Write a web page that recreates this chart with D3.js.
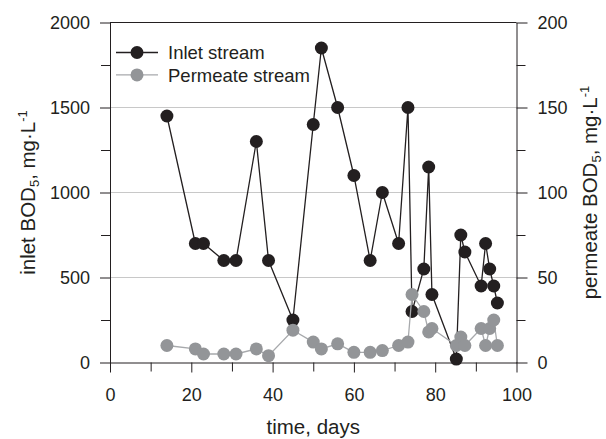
<!DOCTYPE html>
<html>
<head>
<meta charset="utf-8">
<script src="https://cdn.jsdelivr.net/npm/d3@7"></script>
<style>
  html, body { margin: 0; padding: 0; background: #fff; }
  svg { display: block; font-family: "Liberation Sans", Arial, Helvetica, sans-serif; }
  .axis path, .axis line { stroke: #231f20; stroke-width: 1; }
  .axis text { font-size: 18px; fill: #231f20; }
</style>
</head>
<body>
<svg id="chart" width="606" height="439"></svg>
<script>
// Sampling days (x values)
const days = [14, 21, 23, 28, 31, 36, 39, 45, 50, 52, 56, 60, 64, 67, 71, 73.3, 74.3, 77.2, 78.4, 79.2, 85.2, 86.3, 87.3, 91.3, 92.4, 93.4, 94.4, 95.3];

// Inlet BOD5, mg/L (left axis)
const inletValues = [1450, 700, 700, 600, 600, 1300, 600, 250, 1400, 1850, 1500, 1100, 600, 1000, 700, 1500, 300, 550, 1150, 400, 20, 750, 650, 450, 700, 550, 450, 350];

// Permeate BOD5, mg/L (right axis)
const permeateValues = [10, 8, 5, 5, 5, 8, 4, 19, 12, 8, 11, 6, 6, 7, 10, 12, 40, 30, 18, 20, 10, 15, 10, 20, 10, 20, 25, 10];

// Tick values
const xTicks = [0, 20, 40, 60, 80, 100];
const xMinorTicks = [10, 30, 50, 70, 90];
const leftTicks = [0, 500, 1000, 1500, 2000];
const leftMinorTicks = [250, 750, 1250, 1750];
const rightTicks = [0, 50, 100, 150, 200];
const rightMinorTicks = [25, 75, 125, 175];
const gridValues = [500, 1000, 1500];

const seriesNames = ['Inlet stream', 'Permeate stream'];

// Colours
const inletColor = '#231f20';
const permeateColor = '#939598';
const permeateLine = '#a7a9ac';

const svg = d3.select('#chart');
const margin = { top: 22.5, left: 110, right: 89.5, bottom: 76.5 };
const width = 606 - margin.left - margin.right;
const height = 439 - margin.top - margin.bottom;

const x = d3.scaleLinear().domain([0, 100]).range([0, width]);
const yLeft = d3.scaleLinear().domain([0, 2000]).range([height, 0]);
const yRight = d3.scaleLinear().domain([0, 200]).range([height, 0]);

const g = svg.append('g').attr('transform', `translate(${margin.left},${margin.top})`);

// Gridlines
g.append('g').selectAll('line')
  .data(gridValues)
  .join('line')
  .attr('x1', 0).attr('x2', width)
  .attr('y1', d => yLeft(d)).attr('y2', d => yLeft(d))
  .attr('stroke', '#c8c8c8').attr('stroke-width', 1);

// Top frame line
g.append('line')
  .attr('x1', 0).attr('x2', width).attr('y1', 0).attr('y2', 0)
  .attr('stroke', '#231f20');

// X axis (major + minor)
g.append('g').attr('class', 'axis')
  .attr('transform', `translate(0,${height})`)
  .call(d3.axisBottom(x).tickValues(xTicks).tickFormat(d3.format('d')).tickSize(10).tickSizeOuter(0).tickPadding(16));
g.append('g').attr('class', 'axis')
  .attr('transform', `translate(0,${height})`)
  .call(d3.axisBottom(x).tickValues(xMinorTicks).tickFormat('').tickSize(9).tickSizeOuter(0))
  .select('.domain').remove();

// Left axis
g.append('g').attr('class', 'axis')
  .call(d3.axisLeft(yLeft).tickValues(leftTicks).tickFormat(d3.format('d')).tickSize(10).tickSizeOuter(0).tickPadding(10));
g.append('g').attr('class', 'axis')
  .call(d3.axisLeft(yLeft).tickValues(leftMinorTicks).tickFormat('').tickSize(9).tickSizeOuter(0))
  .select('.domain').remove();

// Right axis
g.append('g').attr('class', 'axis')
  .attr('transform', `translate(${width},0)`)
  .call(d3.axisRight(yRight).tickValues(rightTicks).tickFormat(d3.format('d')).tickSize(11).tickSizeOuter(0).tickPadding(10));
g.append('g').attr('class', 'axis')
  .attr('transform', `translate(${width},0)`)
  .call(d3.axisRight(yRight).tickValues(rightMinorTicks).tickFormat('').tickSize(9).tickSizeOuter(0))
  .select('.domain').remove();

// Series data
const inlet = days.map((d, i) => ({ day: d, value: inletValues[i] }));
const permeate = days.map((d, i) => ({ day: d, value: permeateValues[i] }));

const radius = 6.5;

function drawSeries(data, yScale, lineColor, dotColor) {
  const line = d3.line().x(d => x(d.day)).y(d => yScale(d.value));
  g.append('path')
    .datum(data)
    .attr('d', line)
    .attr('fill', 'none')
    .attr('stroke', lineColor)
    .attr('stroke-width', 1.3);
  g.append('g').selectAll('circle')
    .data(data)
    .join('circle')
    .attr('cx', d => x(d.day))
    .attr('cy', d => yScale(d.value))
    .attr('r', radius)
    .attr('fill', dotColor);
}

drawSeries(inlet, yLeft, inletColor, inletColor);
drawSeries(permeate, yRight, permeateLine, permeateColor);

// Legend
const legend = g.append('g').attr('transform', 'translate(6,30)');
const legendItems = [
  { name: seriesNames[0], line: inletColor, dot: inletColor },
  { name: seriesNames[1], line: permeateLine, dot: permeateColor }
];
const items = legend.selectAll('g')
  .data(legendItems)
  .join('g')
  .attr('transform', (d, i) => `translate(0,${i * 22.4})`);
items.append('line')
  .attr('x1', 0).attr('x2', 42)
  .attr('stroke', d => d.line).attr('stroke-width', 1.3);
items.append('circle')
  .attr('cx', 21).attr('r', radius)
  .attr('fill', d => d.dot);
items.append('text')
  .attr('x', 52).attr('dy', '0.36em')
  .attr('font-size', 18.5)
  .attr('fill', '#231f20')
  .text(d => d.name);

// Axis titles
svg.append('text')
  .attr('x', margin.left + width / 2).attr('y', 434)
  .attr('text-anchor', 'middle')
  .attr('font-size', 20.5).attr('fill', '#231f20')
  .text('time, days');

function bodTitle(prefix, xPos) {
  const t = svg.append('text')
    .attr('transform', `translate(${xPos},${margin.top + height / 2}) rotate(-90)`)
    .attr('text-anchor', 'middle')
    .attr('font-size', 20.5).attr('fill', '#231f20');
  t.append('tspan').text(prefix + ' BOD');
  t.append('tspan').attr('font-size', 13).attr('dy', 4).text('5');
  t.append('tspan').attr('dy', -4).text(', mg\u00b7L');
  t.append('tspan').attr('font-size', 13).attr('dy', -8).text('-1');
}
bodTitle('inlet', 35);
bodTitle('permeate', 597);
</script>
</body>
</html>
